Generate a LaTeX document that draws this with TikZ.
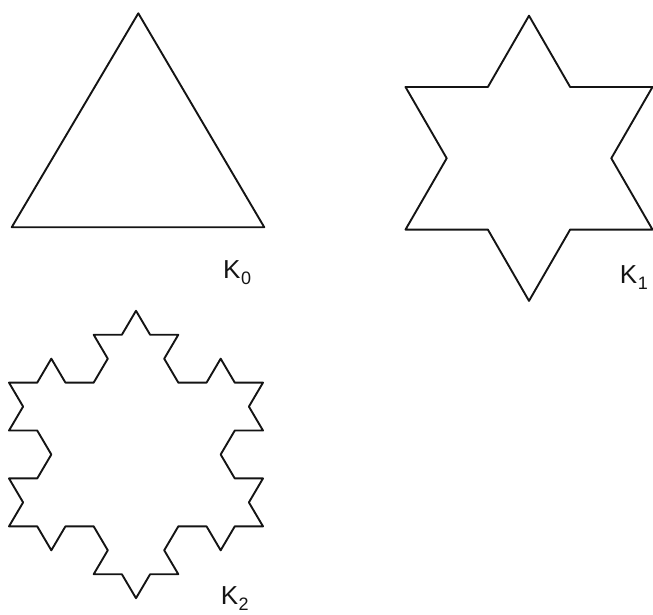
\documentclass[tikz,border=0pt]{standalone}
\usepackage{fontspec}
\setmainfont{Liberation Sans}
\newcommand\kochlen{28.222}
\newcommand\kochside[1]{%
 -- ++({#1}:\kochlen) -- ++({#1+60}:\kochlen) -- ++({#1-60}:\kochlen) -- ++({#1}:\kochlen)
 -- ++({#1+60}:\kochlen) -- ++({#1+120}:\kochlen) -- ++({#1}:\kochlen) -- ++({#1+60}:\kochlen)
 -- ++({#1-60}:\kochlen) -- ++({#1}:\kochlen) -- ++({#1-120}:\kochlen) -- ++({#1-60}:\kochlen)
 -- ++({#1}:\kochlen) -- ++({#1+60}:\kochlen) -- ++({#1-60}:\kochlen) -- ++({#1}:\kochlen)}
\newcommand\labsub[1]{\kern0.5pt\raisebox{-6.5pt}{\fontsize{18}{18}\selectfont #1}}
\tikzset{
  kochline/.style={draw=black!92, line width=1.9pt, line join=round},
  klabel/.style={anchor=base west, inner sep=0pt, font=\fontsize{26}{26}\selectfont, text=black!92}
}
\begin{document}
\begin{tikzpicture}[x=1pt,y=1pt]
\useasboundingbox (0,0) rectangle (653,615);
% K0
\draw[kochline] (138.3,601.7) -- (264.3,387.7) -- (11.7,387.7) -- cycle;
\node[klabel] (k0) at (223,336.7) {K\labsub{0}};
% K1
\begin{scope}[shift={(529,456.7)}]
\draw[kochline] (90:142.6) -- (60:82.3) -- (30:142.6) -- (0:82.3) -- (-30:142.6) -- (-60:82.3)
  -- (-90:142.6) -- (-120:82.3) -- (-150:142.6) -- (180:82.3) -- (150:142.6) -- (120:82.3) -- cycle;
\end{scope}
\node[klabel] (k1) at (619.7,331.7) {K\labsub{1}};
% K2
\begin{scope}[shift={(136,160.5)}, yscale=0.98]
\draw[kochline] (-127,-73.32) \kochside{60} \kochside{-60} \kochside{180} -- cycle;
\end{scope}
\node[klabel] (k2) at (220.7,10.5) {K\labsub{2}};
\end{tikzpicture}
\end{document}
